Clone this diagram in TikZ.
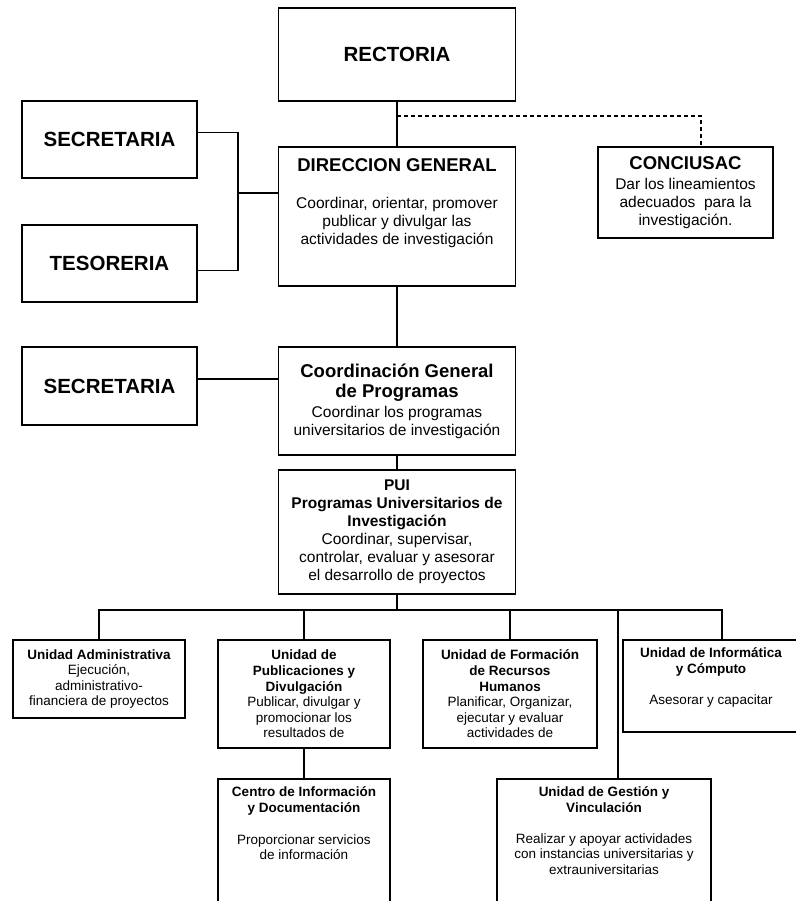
\documentclass[tikz,border=0pt]{standalone}
\usepackage{fontspec}
\setmainfont{Liberation Sans}
\usetikzlibrary{positioning}

\newcommand{\bighead}[1]{{\fontsize{18.5}{21}\selectfont\bfseries #1}}

\begin{document}
\begin{tikzpicture}[x=1pt,y=-1pt,line width=1.3pt,
                    unit/.style={draw,rectangle,inner sep=0pt,align=center},
                    head/.style={unit,font=\fontsize{20.5}{24}\selectfont\bfseries},
                    mid/.style={unit,font=\fontsize{15.5}{18}\selectfont},
                    low/.style={unit,font=\fontsize{13.5}{15.6}\selectfont},
                    note/.style={inner sep=0pt,align=center}]

  \useasboundingbox (0,0) rectangle (795,901);

  % top levels
  \node[head,minimum width=237pt,minimum height=93pt] (rect) at (397,54.5) {RECTORIA};
  \node[head,minimum width=175pt,minimum height=77pt] (sec1) at (109.5,139.5) {SECRETARIA};
  \node[head,minimum width=175pt,minimum height=77pt] (tes) at (109.5,263.5) {TESORERIA};
  \node[mid,minimum width=237pt,minimum height=139pt] (dir) at (397,216.5) {};
  \node[note,font=\fontsize{15.5}{18}\selectfont,below=12pt of dir.north] (dirtxt)
    {\bighead{DIRECCION GENERAL}\\[19pt]Coordinar, orientar, promover\\publicar y divulgar las\\actividades de investigación};
  \node[mid,minimum width=175pt,minimum height=91pt] (conc) at (685.5,192.5)
    {\bighead{CONCIUSAC}\\[1.5pt]Dar los lineamientos\\adecuados\ \ para la\\investigación.};

  \node[head,minimum width=175pt,minimum height=78pt] (sec2) at (109.5,386) {SECRETARIA};
  \node[mid,minimum width=237pt,minimum height=108pt] (coord) at (397,401)
    {\bighead{Coordinación General}\\[2.5pt]\bighead{de Programas}\\[1.5pt]Coordinar los programas\\universitarios de investigación};
  \node[mid,minimum width=237pt,minimum height=124pt] (pui) at (397,532)
    {\textbf{PUI}\\\textbf{Programas Universitarios de}\\\textbf{Investigación}\\Coordinar, supervisar,\\controlar, evaluar y asesorar\\el desarrollo de proyectos};

  % units
  \node[low,minimum width=172pt,minimum height=78pt] (adm) at (99,679)
    {\textbf{Unidad Administrativa}\\Ejecución,\\administrativo-\\financiera de proyectos};
  \node[low,minimum width=172pt,minimum height=108pt] (pub) at (304,694)
    {\textbf{Unidad de}\\\textbf{Publicaciones y}\\\textbf{Divulgación}\\Publicar, divulgar y\\promocionar los\\resultados de};
  \node[low,minimum width=174pt,minimum height=108pt] (form) at (510,694)
    {\textbf{Unidad de Formación}\\\textbf{de Recursos}\\\textbf{Humanos}\\Planificar, Organizar,\\ejecutar y evaluar\\actividades de};
  \node[low,minimum width=176pt,minimum height=92pt] (inf) at (711,686) {};
  \node[note,font=\fontsize{13.5}{15.6}\selectfont,below=8pt of inf.north] (inftxt)
    {\textbf{Unidad de Informática}\\\textbf{y Cómputo}\\[15pt]Asesorar y capacitar};
  \node[low,minimum width=172pt,minimum height=160pt] (cen) at (304,859) {};
  \node[note,font=\fontsize{13.5}{15.6}\selectfont,below=8pt of cen.north] (centxt)
    {\textbf{Centro de Información}\\\textbf{y Documentación}\\[16pt]Proporcionar servicios\\de información};
  \node[low,minimum width=214pt,minimum height=160pt] (gest) at (604,859) {};
  \node[note,font=\fontsize{13.5}{15.6}\selectfont,below=8pt of gest.north] (gesttxt)
    {\textbf{Unidad de Gestión y}\\\textbf{Vinculación}\\[15pt]Realizar y apoyar actividades\\con instancias universitarias y\\extrauniversitarias};

  % connectors
  \coordinate (dash) at (397,116);
  \coordinate (brk) at (238,193);
  \coordinate (s2) at ([yshift=7pt]sec2.east);
  \coordinate (bus) at (397,610);
  \coordinate (inftop) at ([xshift=11pt]inf.north);
  \coordinate (gtop) at ([xshift=14pt]gest.north);

  \draw (rect) -- (dir);
  \draw[dash pattern=on 4pt off 3pt] (dash) -| ([xshift=15.5pt]conc.north);
  \draw ([yshift=7pt]sec1.east) -| (brk) |- ([yshift=-7pt]tes.east);
  \draw (brk) -- (brk -| dir.west);
  \draw (dir) -- (coord);
  \draw (s2) -- (s2 -| coord.west);
  \draw (coord) -- (pui);
  \draw (pui) -- (bus);
  \draw (adm.north) |- (bus) -| (inftop);
  \draw (pub.north) -- (pub.north |- bus);
  \draw (form.north) -- (form.north |- bus);
  \draw (gtop) -- (gtop |- bus);
  \draw (pub) -- (cen);
\end{tikzpicture}
\end{document}
